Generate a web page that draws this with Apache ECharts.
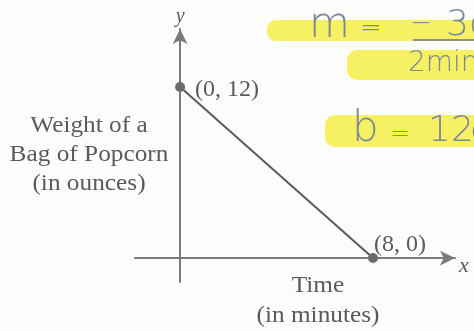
<!DOCTYPE html>
<html>
<head>
<meta charset="utf-8">
<script src="https://cdn.jsdelivr.net/npm/echarts@6/dist/echarts.min.js"></script>
<style>
  html, body { margin: 0; padding: 0; background: #fcfcfb; }
  #chart { width: 474px; height: 331px; }
</style>
</head>
<body>
<div id="chart"></div>
<script>
// Popcorn bag weight over time: two labelled points joined by a line
const timeMinutes = [0, 8];
const weightOunces = [12, 0];
const xTitle = 'Time\n(in minutes)';
const yTitle = 'Weight of a\nBag of Popcorn\n(in ounces)';
// Pencil notes beside the graph
const noteSlope = ['m', '=', '−', '3oz', '2min'];
const noteIntercept = ['b', '=', '12', 'oz'];

const ink = '#5a5a5a';
const axisInk = '#7a7a7a';
const serif = '"Liberation Serif", "DejaVu Serif", serif';
const pencil = '#7d869a';
const hand = '"DejaVu Sans", sans-serif';
const marker = 'rgba(244, 238, 70, 0.85)';

const chart = echarts.init(document.getElementById('chart'), null, { renderer: 'canvas' });

const points = timeMinutes.map((t, i) => [t, weightOunces[i]]);

// pencil text centred vertically on y, starting at x
function handText(x, y, s, size) {
  return {
    type: 'text', x, y, z: 10,
    style: { text: s, font: `200 ${size}px ${hand}`, fill: pencil, align: 'left', verticalAlign: 'middle' }
  };
}

chart.setOption({
  backgroundColor: '#fcfcfb',
  animation: false,
  grid: { left: 135, right: 19, top: 29, bottom: 49, containLabel: false },
  xAxis: {
    type: 'value', min: -1.87, max: 11.4,
    axisLine: {
      show: true, onZero: true,
      symbol: ['none', 'arrow'], symbolSize: [11, 15],
      lineStyle: { color: axisInk, width: 2 }
    },
    axisTick: { show: false }, axisLabel: { show: false }, splitLine: { show: false },
    name: 'x', nameLocation: 'end', nameGap: 4,
    nameTextStyle: { fontFamily: serif, fontStyle: 'italic', fontSize: 22, color: ink, verticalAlign: 'top', lineHeight: 16 }
  },
  yAxis: {
    type: 'value', min: -1.68, max: 16.07,
    axisLine: {
      show: true, onZero: true,
      symbol: ['none', 'arrow'], symbolSize: [11, 15],
      lineStyle: { color: axisInk, width: 2 }
    },
    axisTick: { show: false }, axisLabel: { show: false }, splitLine: { show: false },
    name: 'y', nameLocation: 'end', nameGap: 2,
    nameTextStyle: { fontFamily: serif, fontStyle: 'italic', fontSize: 20, color: ink, align: 'center' }
  },
  series: [{
    type: 'line',
    symbol: 'circle', symbolSize: 10,
    itemStyle: { color: '#6a6a6a' },
    lineStyle: { color: ink, width: 2 },
    label: {
      show: true,
      fontFamily: serif, fontSize: 24, color: ink,
      align: 'left', verticalAlign: 'middle',
      formatter: p => `(${p.value[0]}, ${p.value[1]})`
    },
    data: points.map((pt, i) => ({
      value: pt,
      label: i === 0 ? { position: [20, 8] } : { position: [6, -8] }
    }))
  }],
  graphic: [
    // axis titles
    {
      type: 'text', x: 89, y: 155, scaleX: 1.1,
      style: { text: yTitle, font: `23px ${serif}`, fill: ink, align: 'center', verticalAlign: 'middle', lineHeight: 29 }
    },
    {
      type: 'text', x: 318, y: 301, scaleX: 1.1,
      style: { text: xTitle, font: `23px ${serif}`, fill: ink, align: 'center', verticalAlign: 'middle', lineHeight: 30 }
    },
    // highlighter strokes
    { type: 'rect', shape: { x: 267, y: 20, width: 220, height: 21, r: 9 }, style: { fill: marker }, z: 5 },
    { type: 'rect', shape: { x: 347, y: 50, width: 140, height: 30, r: 10 }, style: { fill: marker }, z: 5 },
    { type: 'rect', shape: { x: 325, y: 115, width: 160, height: 32, r: 10 }, style: { fill: marker }, z: 5 },
    // pencil notes
    handText(309, 26, noteSlope[0], 42),
    handText(360, 29, noteSlope[1], 26),
    handText(410, 24, noteSlope[2], 26),
    handText(446, 26, noteSlope[3], 36),
    { type: 'line', shape: { x1: 413, y1: 40, x2: 474, y2: 40 }, style: { stroke: '#6e7385', lineWidth: 1.5 }, z: 10 },
    handText(408, 64, noteSlope[4], 28),
    handText(352, 130, noteIntercept[0], 42),
    handText(390, 135, noteIntercept[1], 24),
    handText(428, 132, noteIntercept[2], 36),
    handText(470, 132, noteIntercept[3], 34)
  ]
});
</script>
</body>
</html>
